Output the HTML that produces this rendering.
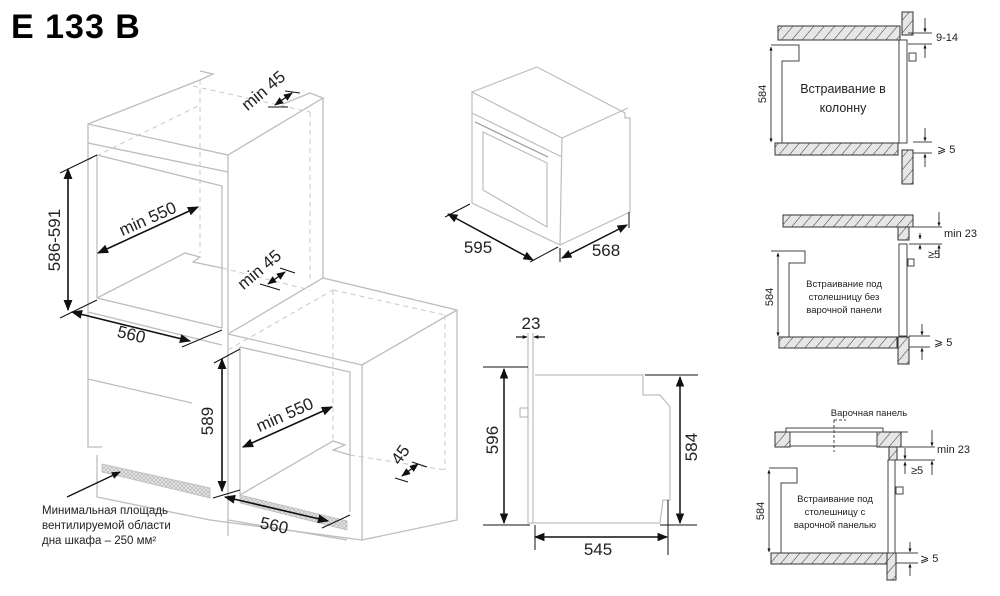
<!DOCTYPE html>
<html><head><meta charset="utf-8"><style>
html,body{margin:0;padding:0;background:#fff;width:1000px;height:596px;overflow:hidden}
svg{display:block}
text{font-family:"Liberation Sans","DejaVu Sans",sans-serif;fill:#222}
</style></head><body>
<svg width="1000" height="596" viewBox="0 0 1000 596" xmlns="http://www.w3.org/2000/svg">
<defs>
<marker id="a" viewBox="0 0 10 10" refX="9" refY="5" markerWidth="7" markerHeight="7" orient="auto-start-reverse"><path d="M0,1 L10,5 L0,9 z" fill="#111"/></marker>
<marker id="s" viewBox="0 0 10 10" refX="9" refY="5" markerWidth="4" markerHeight="4" orient="auto-start-reverse"><path d="M0,1 L10,5 L0,9 z" fill="#111"/></marker>
<pattern id="h" width="8" height="8" patternUnits="userSpaceOnUse" patternTransform="rotate(40)"><rect width="8" height="8" fill="#e6e6e6"/><line x1="0" y1="0" x2="0" y2="8" stroke="#333" stroke-width="1"/></pattern>
<pattern id="g" width="4" height="4" patternUnits="userSpaceOnUse"><rect width="4" height="4" fill="#e6e6e6"/><path d="M0,0 L4,4 M4,0 L0,4" stroke="#b0b0b0" stroke-width="0.6"/></pattern>
</defs>

<text x="11" y="38" font-size="34" font-weight="bold" letter-spacing="1" style="fill:#000">E 133 B</text>

<!-- LEFT ISOMETRIC CABINETS -->
<g stroke="#bdbdbd" stroke-width="1.3" fill="none">
 <polyline points="200,71 213,74 200,80 88,124 88,447 102,447"/>
 <polyline points="88,124 228,155 323,98 310,93 283,104"/>
 <line x1="88" y1="143" x2="228" y2="172"/>
 <line x1="228" y1="155" x2="228" y2="536"/>
 <line x1="323" y1="98" x2="323" y2="278"/>
 <polyline points="97,298 97,155 222,186 222,328"/>
 <line x1="97" y1="298" x2="222" y2="328"/>
 <polyline points="97,298 185,253 200,257 193,262 222,268"/>
 <line x1="88" y1="379" x2="192" y2="403"/>
 <line x1="88" y1="312" x2="222" y2="345"/>
 <polyline points="228,334 323,278 457,310 457,520 362,540"/>
 <line x1="228" y1="334" x2="362" y2="365"/>
 <line x1="362" y1="365" x2="457" y2="310"/>
 <line x1="362" y1="365" x2="362" y2="540"/>
 <polyline points="240,495 240,347 350,372 350,512"/>
 <polyline points="240,495 333,441 345,445 333,450 350,455"/>
 <polyline points="97,455 97,497 210,520 362,540"/>
 <line x1="228" y1="520" x2="347" y2="540"/>
</g>
<g stroke="#c8c8c8" stroke-width="1" fill="none" stroke-dasharray="5,4">
 <line x1="200" y1="80" x2="200" y2="253"/>
 <line x1="193" y1="86" x2="310" y2="112"/>
 <line x1="88" y1="160" x2="200" y2="105"/>
 <line x1="310" y1="112" x2="310" y2="280"/>
 <line x1="222" y1="268" x2="310" y2="290"/>
 <line x1="333" y1="290" x2="333" y2="441"/>
 <line x1="228" y1="350" x2="333" y2="290"/>
 <line x1="333" y1="290" x2="445" y2="315"/>
 <line x1="445" y1="315" x2="445" y2="470"/>
 <line x1="350" y1="455" x2="445" y2="470"/>
</g>
<polygon points="102,464 210,488 210,498 102,472" fill="url(#g)" stroke="#bbb" stroke-width="0.8"/>
<polygon points="240,495 347,521 347,530 240,503" fill="url(#g)" stroke="#bbb" stroke-width="0.8"/>

<g stroke="#111" stroke-width="1.6" fill="none">
 <line x1="68" y1="169" x2="68" y2="310" marker-start="url(#a)" marker-end="url(#a)"/>
 <line x1="60" y1="173" x2="97" y2="155" stroke-width="1"/>
 <line x1="60" y1="318" x2="97" y2="300" stroke-width="1"/>
 <line x1="72" y1="312" x2="190" y2="341" marker-start="url(#a)" marker-end="url(#a)"/>
 <line x1="182" y1="347" x2="222" y2="330" stroke-width="1"/>
 <line x1="98" y1="253" x2="198" y2="207" marker-start="url(#a)" marker-end="url(#a)"/>
 <line x1="275" y1="105" x2="292" y2="93" marker-start="url(#a)" marker-end="url(#a)" stroke-width="1.3"/>
 <line x1="268" y1="107" x2="288" y2="107" stroke-width="1"/>
 <line x1="285" y1="91" x2="300" y2="93" stroke-width="1"/>
 <line x1="268" y1="284" x2="285" y2="272" marker-start="url(#a)" marker-end="url(#a)" stroke-width="1.3"/>
 <line x1="260" y1="284" x2="280" y2="290" stroke-width="1"/>
 <line x1="280" y1="268" x2="295" y2="273" stroke-width="1"/>
 <line x1="222" y1="359" x2="222" y2="491" marker-start="url(#a)" marker-end="url(#a)"/>
 <line x1="214" y1="363" x2="240" y2="349" stroke-width="1"/>
 <line x1="213" y1="498" x2="240" y2="490" stroke-width="1"/>
 <line x1="243" y1="447" x2="332" y2="407" marker-start="url(#a)" marker-end="url(#a)"/>
 <line x1="402" y1="476" x2="418" y2="464" marker-start="url(#a)" marker-end="url(#a)" stroke-width="1.3"/>
 <line x1="395" y1="478" x2="408" y2="482" stroke-width="1"/>
 <line x1="412" y1="462" x2="427" y2="467" stroke-width="1"/>
 <line x1="225" y1="497" x2="328" y2="521" marker-start="url(#a)" marker-end="url(#a)"/>
 <line x1="322" y1="528" x2="350" y2="515" stroke-width="1"/>
 <line x1="67" y1="497" x2="120" y2="472" marker-end="url(#a)" stroke-width="1.3"/>
</g>
<g font-size="17">
 <text transform="translate(60,240) rotate(-90)" text-anchor="middle">586-591</text>
 <text transform="translate(130,340) rotate(14)" text-anchor="middle">560</text>
 <text transform="translate(150,224) rotate(-24)" text-anchor="middle">min 550</text>
 <text transform="translate(267,95) rotate(-40)" text-anchor="middle">min 45</text>
 <text transform="translate(263,274) rotate(-40)" text-anchor="middle">min 45</text>
 <text transform="translate(213,421) rotate(-90)" text-anchor="middle">589</text>
 <text transform="translate(287,420) rotate(-24)" text-anchor="middle">min 550</text>
 <text transform="translate(405,458) rotate(-55)" text-anchor="middle">45</text>
 <text transform="translate(273,531) rotate(12)" text-anchor="middle">560</text>
</g>
<g font-size="11.5" style="fill:#333">
 <text x="42" y="514">Минимальная площадь</text>
 <text x="42" y="529">вентилируемой области</text>
 <text x="42" y="544">дна шкафа – 250 мм²</text>
</g>

<!-- MIDDLE OVEN ISO -->
<g stroke="#bdbdbd" stroke-width="1.2" fill="none">
 <polygon points="472,92 562,138 560,245 472,203"/>
 <polyline points="472,92 537,67 625,113 625,118 630,118 630,212 560,245"/>
 <line x1="562" y1="138" x2="628" y2="108"/>
 <line x1="472" y1="113" x2="562" y2="157"/>
 <polygon points="483,132 547,163 547,227 483,190"/>
 <line x1="475" y1="122" x2="548" y2="157" stroke="#999"/>
</g>
<g stroke="#111" stroke-width="1.5" fill="none">
 <line x1="448" y1="214" x2="533" y2="260" marker-start="url(#a)" marker-end="url(#a)"/>
 <line x1="562" y1="258" x2="627" y2="225" marker-start="url(#a)" marker-end="url(#a)"/>
 <line x1="445" y1="217" x2="470" y2="204" stroke-width="1"/>
 <line x1="530" y1="262" x2="558" y2="247" stroke-width="1"/>
 <line x1="560" y1="248" x2="560" y2="262" stroke-width="1"/>
 <line x1="629" y1="212" x2="629" y2="228" stroke-width="1"/>
</g>
<text x="478" y="253" font-size="17" text-anchor="middle">595</text>
<text x="606" y="256" font-size="17" text-anchor="middle">568</text>

<!-- SIDE VIEW -->
<g stroke="#bdbdbd" stroke-width="1.2" fill="none">
 <polyline points="528,333 528,523 533,523 533,333"/>
 <rect x="520" y="408" width="8" height="9"/>
 <polyline points="535,375 643,375 643,395 660,395 670,407 670,500 663,500 660,523 533,523"/>
</g>
<g stroke="#111" stroke-width="1.5" fill="none">
 <line x1="516" y1="337" x2="527" y2="337" marker-end="url(#s)" stroke-width="1.2"/>
 <line x1="545" y1="337" x2="534" y2="337" marker-end="url(#s)" stroke-width="1.2"/>
 <line x1="483" y1="367" x2="528" y2="367" stroke-width="1"/>
 <line x1="483" y1="525" x2="530" y2="525" stroke-width="1"/>
 <line x1="504" y1="369" x2="504" y2="523" marker-start="url(#a)" marker-end="url(#a)"/>
 <line x1="645" y1="375" x2="698" y2="375" stroke-width="1"/>
 <line x1="660" y1="525" x2="697" y2="525" stroke-width="1"/>
 <line x1="680" y1="377" x2="680" y2="523" marker-start="url(#a)" marker-end="url(#a)"/>
 <line x1="535" y1="525" x2="535" y2="550" stroke-width="1"/>
 <line x1="668" y1="500" x2="668" y2="555" stroke-width="1"/>
 <line x1="535" y1="537" x2="667" y2="537" marker-start="url(#a)" marker-end="url(#a)"/>
</g>
<g font-size="17">
 <text x="531" y="329" text-anchor="middle">23</text>
 <text transform="translate(498,440) rotate(-90)" text-anchor="middle">596</text>
 <text transform="translate(697,447) rotate(-90)" text-anchor="middle">584</text>
 <text x="598" y="555" text-anchor="middle">545</text>
</g>

<!-- RIGHT SECTIONS -->
<g stroke="#333" stroke-width="1" fill="url(#h)">
 <rect x="778" y="26" width="122" height="14"/>
 <rect x="902" y="12" width="11" height="23"/>
 <rect x="775" y="143" width="123" height="12"/>
 <rect x="902" y="150" width="11" height="34"/>
 <rect x="783" y="215" width="130" height="12"/>
 <rect x="898" y="227" width="11" height="13"/>
 <rect x="779" y="337" width="118" height="11"/>
 <rect x="898" y="337" width="11" height="27"/>
 <rect x="775" y="432" width="15" height="15"/>
 <rect x="877" y="432" width="24" height="15"/>
 <rect x="889" y="447" width="8" height="13"/>
 <rect x="771" y="553" width="116" height="11"/>
 <rect x="887" y="553" width="9" height="27"/>
</g>
<g stroke="#444" stroke-width="1" fill="none">
 <polyline points="771,45 799,45 799,61 782,61 782,143"/>
 <rect x="899" y="40" width="8" height="103" fill="#fff"/>
 <rect x="909" y="53" width="7" height="8"/>
 <polyline points="771,251 805,251 805,263 789,263 789,337"/>
 <rect x="899" y="244" width="8" height="92" fill="#fff"/>
 <rect x="908" y="259" width="6" height="7"/>
 <polyline points="769,468 797,468 797,483 781,483 781,553"/>
 <rect x="888" y="460" width="7" height="93" fill="#fff"/>
 <rect x="896" y="487" width="7" height="7"/>
 <rect x="786" y="428" width="97" height="4"/>
 <rect x="790" y="432" width="87" height="14"/>
 <line x1="834" y1="420" x2="834" y2="452" stroke-dasharray="3,2"/>
 <line x1="834" y1="420" x2="846" y2="420" stroke-dasharray="3,2"/>
 <line x1="901" y1="432" x2="908" y2="432"/>
 <line x1="771" y1="47" x2="771" y2="142" marker-start="url(#s)" marker-end="url(#s)"/>
 <line x1="908" y1="33" x2="932" y2="33"/><line x1="908" y1="44" x2="932" y2="44"/>
 <line x1="925" y1="18" x2="925" y2="32" marker-end="url(#s)"/><line x1="925" y1="58" x2="925" y2="45" marker-end="url(#s)"/>
 <line x1="913" y1="142" x2="932" y2="142"/><line x1="913" y1="153" x2="932" y2="153"/>
 <line x1="925" y1="128" x2="925" y2="141" marker-end="url(#s)"/><line x1="925" y1="167" x2="925" y2="154" marker-end="url(#s)"/>
 <line x1="778" y1="253" x2="778" y2="336" marker-start="url(#s)" marker-end="url(#s)"/>
 <line x1="909" y1="227" x2="942" y2="227"/><line x1="909" y1="244" x2="942" y2="244"/>
 <line x1="939" y1="212" x2="939" y2="226" marker-end="url(#s)"/><line x1="939" y1="258" x2="939" y2="245" marker-end="url(#s)"/>
 <line x1="920" y1="233" x2="920" y2="239" marker-end="url(#s)"/><line x1="920" y1="250" x2="920" y2="245" marker-end="url(#s)"/>
 <line x1="909" y1="336" x2="930" y2="336"/><line x1="909" y1="347" x2="930" y2="347"/>
 <line x1="922" y1="324" x2="922" y2="335" marker-end="url(#s)"/><line x1="922" y1="360" x2="922" y2="348" marker-end="url(#s)"/>
 <line x1="769" y1="470" x2="769" y2="552" marker-start="url(#s)" marker-end="url(#s)"/>
 <line x1="897" y1="447" x2="935" y2="447"/><line x1="897" y1="460" x2="935" y2="460"/>
 <line x1="932" y1="430" x2="932" y2="446" marker-end="url(#s)"/><line x1="932" y1="475" x2="932" y2="461" marker-end="url(#s)"/>
 <line x1="905" y1="448" x2="905" y2="459" marker-end="url(#s)"/><line x1="905" y1="474" x2="905" y2="462" marker-end="url(#s)"/>
 <line x1="896" y1="553" x2="918" y2="553"/><line x1="896" y1="563" x2="918" y2="563"/>
 <line x1="910" y1="542" x2="910" y2="552" marker-end="url(#s)"/><line x1="910" y1="576" x2="910" y2="564" marker-end="url(#s)"/>
</g>
<g font-size="11" style="fill:#222">
 <text x="936" y="41">9-14</text>
 <text x="937" y="153">⩾ 5</text>
 <text x="944" y="237">min 23</text>
 <text x="928" y="258">≥5</text>
 <text x="934" y="346">⩾ 5</text>
 <text x="937" y="453">min 23</text>
 <text x="911" y="474">≥5</text>
 <text x="920" y="562">⩾ 5</text>
 <text transform="translate(766,94) rotate(-90)" text-anchor="middle">584</text>
 <text transform="translate(773,297) rotate(-90)" text-anchor="middle">584</text>
 <text transform="translate(764,511) rotate(-90)" text-anchor="middle">584</text>
</g>
<g font-size="12.5" style="fill:#222" text-anchor="middle">
 <text x="843" y="93">Встраивание в</text>
 <text x="843" y="112">колонну</text>
</g>
<g font-size="9.5" style="fill:#222" text-anchor="middle">
 <text x="844" y="287">Встраивание под</text>
 <text x="844" y="300">столешницу без</text>
 <text x="844" y="313">варочной панели</text>
 <text x="869" y="416">Варочная панель</text>
 <text x="835" y="502">Встраивание под</text>
 <text x="835" y="515">столешницу с</text>
 <text x="835" y="528">варочной панелью</text>
</g>
</svg>
</body></html>
